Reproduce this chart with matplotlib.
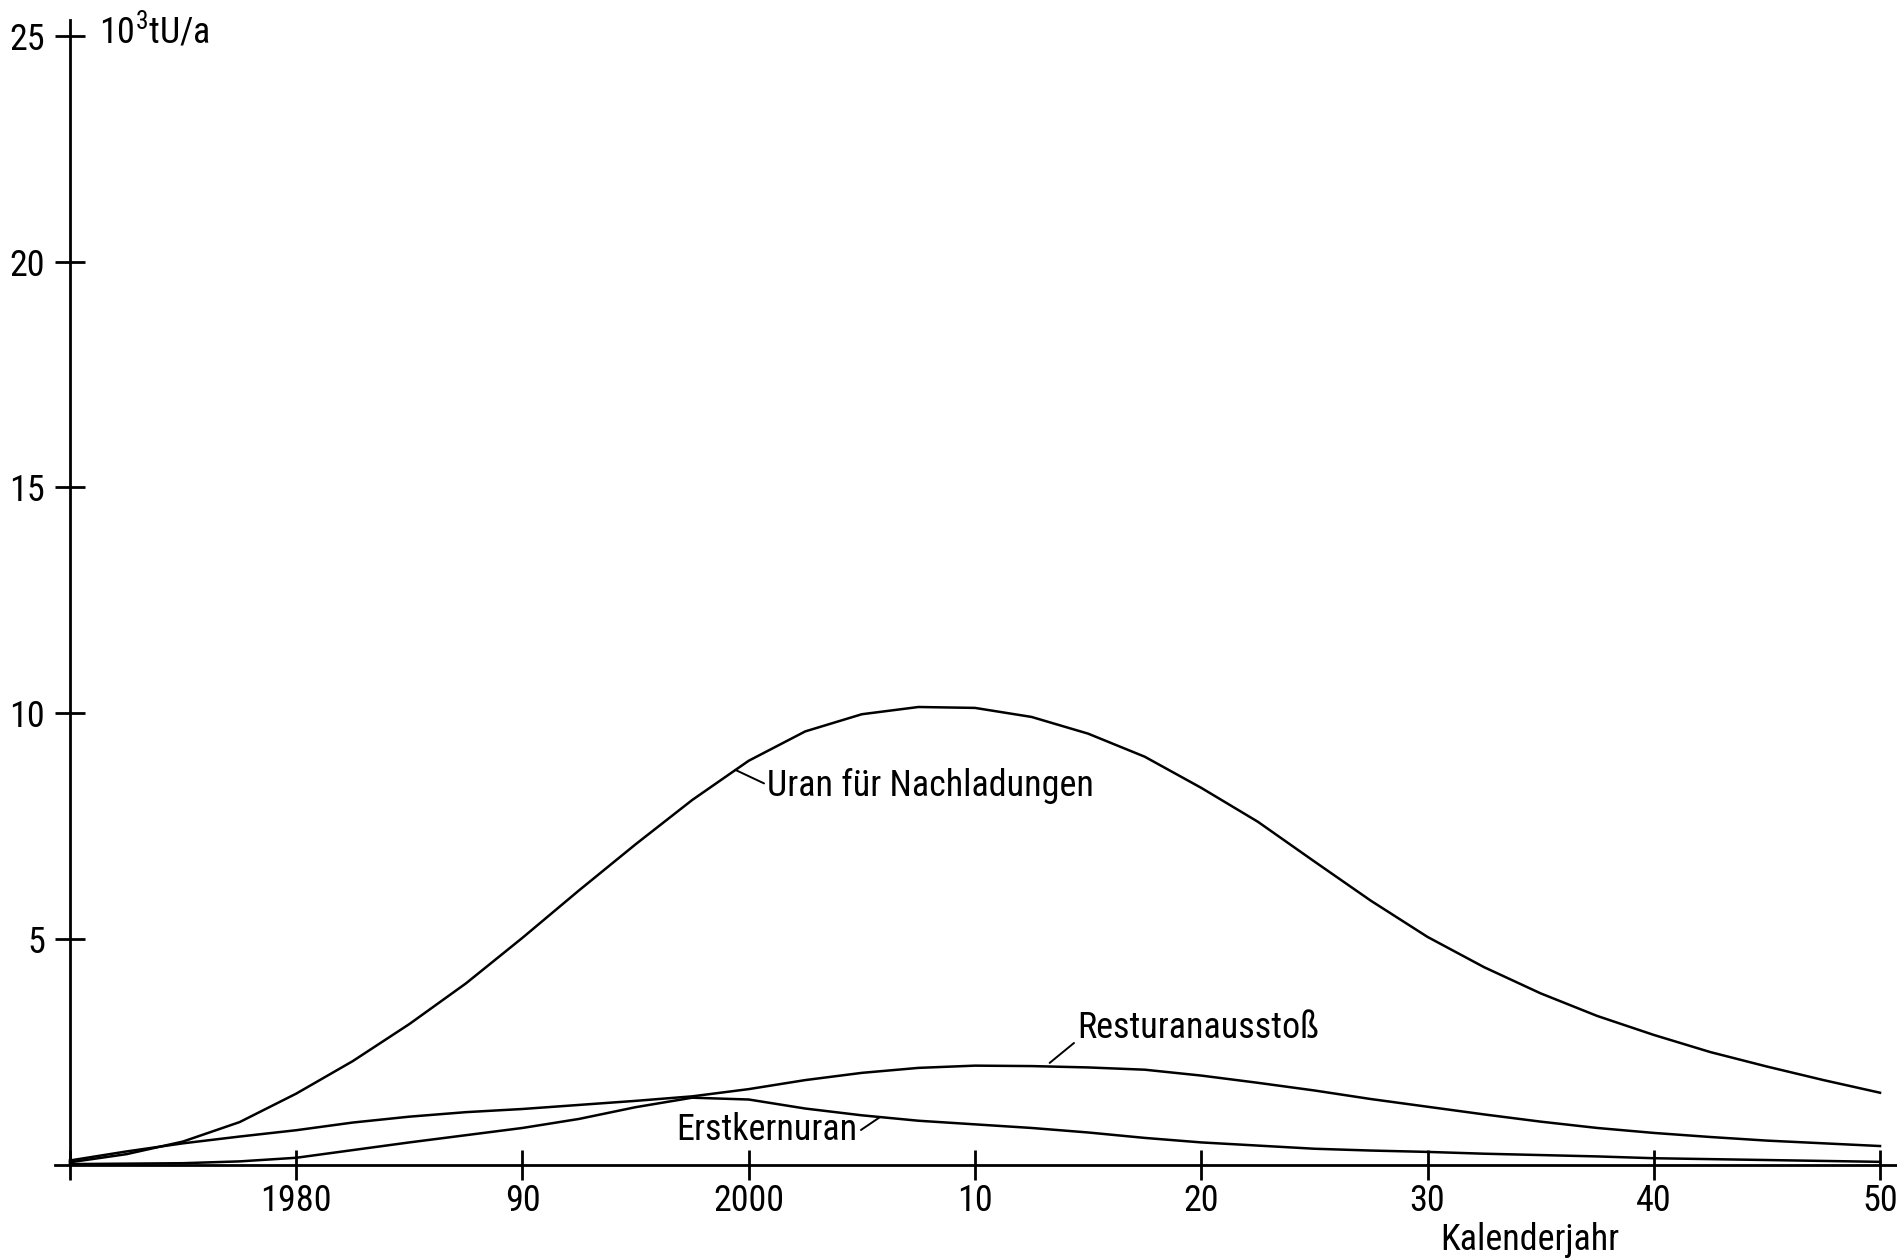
import matplotlib
matplotlib.use('Agg')
import matplotlib.pyplot as plt
from matplotlib import font_manager

# Daten, Angaben in 10^3 t U pro Jahr
jahre = [1970, 1972.5, 1975, 1977.5, 1980, 1982.5, 1985, 1987.5, 1990, 1992.5,
         1995, 1997.5, 2000, 2002.5, 2005, 2007.5, 2010, 2012.5, 2015, 2017.5,
         2020, 2022.5, 2025, 2027.5, 2030, 2032.5, 2035, 2037.5, 2040, 2042.5,
         2045, 2047.5, 2050]
uran_nachladung = [0.06, 0.24, 0.52, 0.95, 1.58, 2.30, 3.12, 4.02, 5.03, 6.08,
                   7.10, 8.08, 8.95, 9.60, 9.98, 10.14, 10.12, 9.92, 9.55, 9.04,
                   8.35, 7.60, 6.72, 5.85, 5.05, 4.38, 3.80, 3.30, 2.88, 2.50,
                   2.18, 1.88, 1.60]
resturan = [0.10, 0.30, 0.48, 0.63, 0.77, 0.94, 1.07, 1.17, 1.24, 1.33,
            1.42, 1.52, 1.68, 1.88, 2.04, 2.15, 2.20, 2.19, 2.16, 2.11,
            1.98, 1.82, 1.65, 1.46, 1.29, 1.12, 0.96, 0.82, 0.71, 0.62,
            0.54, 0.48, 0.42]
erstkern = [0.02, 0.03, 0.04, 0.08, 0.16, 0.33, 0.50, 0.66, 0.82, 1.02,
            1.28, 1.49, 1.45, 1.25, 1.10, 0.98, 0.90, 0.82, 0.72, 0.60,
            0.50, 0.43, 0.36, 0.32, 0.29, 0.25, 0.22, 0.19, 0.15, 0.13,
            0.11, 0.09, 0.07]

x_ticks = [1970, 1980, 1990, 2000, 2010, 2020, 2030, 2040, 2050]
x_labels = ['', '1980', '90', '2000', '10', '20', '30', '40', '50']
y_ticks = [5, 10, 15, 20, 25]
y_labels = ['5', '10', '15', '20', '25']

# schmale Schrift suchen, sonst DejaVu Sans
namen = {f.name for f in font_manager.fontManager.ttflist}
schrift = 'DejaVu Sans'
streckung = 'normal'
for n in ['DejaVu Sans Condensed', 'Roboto Condensed', 'Liberation Sans Narrow', 'Open Sans Condensed']:
    if n in namen:
        schrift = n
        break
else:
    if any(f.name == 'DejaVu Sans' and f.stretch == 'condensed' for f in font_manager.fontManager.ttflist):
        streckung = 'condensed'
plt.rcParams['font.family'] = [schrift, 'DejaVu Sans']
plt.rcParams['font.stretch'] = streckung
plt.rcParams['mathtext.fontset'] = 'custom'
plt.rcParams['mathtext.rm'] = schrift

fs = 26

fig = plt.figure(figsize=(18.97, 12.59), dpi=100)
ax = fig.add_axes([55 / 1897, 1 - 1165 / 1259, 1842 / 1897, 1145 / 1259])
ax.set_xlim(1969.34, 2050.75)
ax.set_ylim(0, 25.35)

lw = 1.8
ax.plot(jahre, uran_nachladung, color='black', lw=lw)
ax.plot(jahre, resturan, color='black', lw=lw)
ax.plot(jahre, erstkern, color='black', lw=lw)

# Achsen
for s in ['top', 'right']:
    ax.spines[s].set_visible(False)
ax.spines['left'].set_position(('data', 1970))
ax.spines['bottom'].set_position(('data', 0))
for s in ['left', 'bottom']:
    ax.spines[s].set_linewidth(2)

ax.set_xticks(x_ticks)
ax.set_xticklabels(x_labels)
ax.set_yticks(y_ticks)
ax.set_yticklabels(y_labels)
ax.tick_params(axis='both', direction='inout', length=22, width=2, labelsize=fs)
ax.tick_params(axis='x', pad=2)
ax.tick_params(axis='y', pad=7)

ax.text(1971.3, 25.1, r'10$^{\mathregular{3}}$tU/a', fontsize=fs, ha='left', va='center')
ax.text(2034.5, -1.65, 'Kalenderjahr', fontsize=fs, ha='center', va='center', clip_on=False)

# Beschriftungen mit Hinweislinien
pfeil = dict(arrowstyle='-', color='black', lw=1.4, shrinkA=0, shrinkB=0)
ax.annotate('Uran für Nachladungen', xy=(1999.4, 8.75), xytext=(2000.8, 8.38),
            fontsize=fs, ha='left', va='center',
            arrowprops=dict(pfeil, relpos=(0, 0.55)))
ax.annotate('Resturanausstoß', xy=(2013.3, 2.26), xytext=(2014.5, 2.81),
            fontsize=fs, ha='left', va='baseline',
            arrowprops=dict(pfeil, relpos=(0, 0.15)))
ax.annotate('Erstkernuran', xy=(2005.8, 1.06), xytext=(2004.8, 0.775),
            fontsize=fs, ha='right', va='center',
            arrowprops=dict(pfeil, relpos=(1.02, 0.5)))

fig.savefig('out.png', dpi=100, facecolor='white')
